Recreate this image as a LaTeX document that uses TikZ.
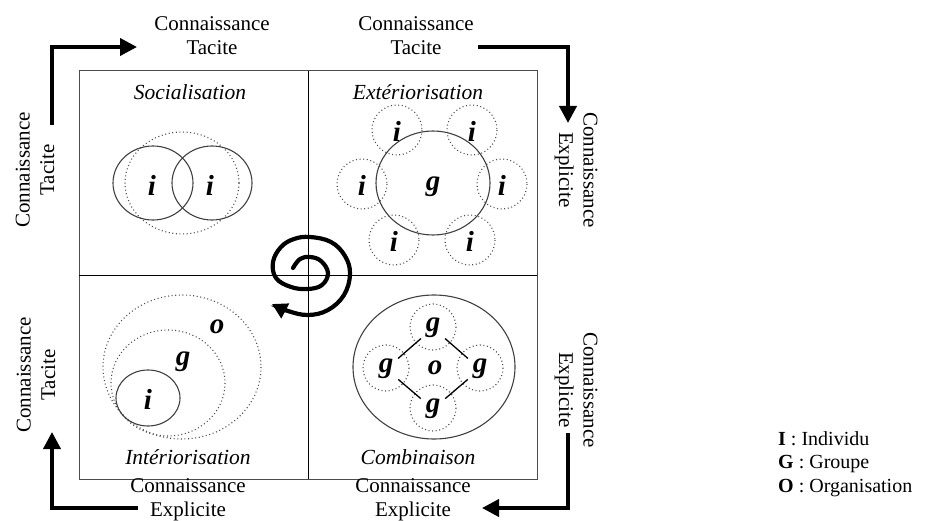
\documentclass[tikz,border=0pt]{standalone}
\usepackage{fontspec}
\setmainfont{Liberation Serif}
\usetikzlibrary{arrows.meta}
\begin{document}
\begin{tikzpicture}[x=1pt,y=-1pt,
  lbl/.style={font=\fontsize{21}{24.5}\selectfont, align=center, inner sep=0pt},
  ttl/.style={font=\fontsize{21.5}{24}\selectfont\itshape, inner sep=0pt},
  ltr/.style={font=\fontsize{29}{30}\selectfont\bfseries\itshape, inner sep=0pt},
  flow/.style={line width=3.8pt, -{Triangle[length=17pt,width=17pt]}},
  frame/.style={draw=black!70, line width=1pt},
  axis/.style={draw=black, line width=0.9pt},
  solidring/.style={draw=black!75, line width=1.1pt},
  dotring/.style={draw=black!70, line width=1.1pt, dash pattern=on 1pt off 2.6pt},
  link/.style={draw=black, line width=1.3pt, shorten >=16pt, shorten <=16pt},
]
\useasboundingbox (0,0) rectangle (933,521);

% frame and quadrant axes
\draw[frame] (79,71) rectangle (537,479);
\draw[axis] (308,71) -- (308,479);
\draw[axis] (79,275) -- (537,275);

% outer knowledge labels
\node[lbl] (ttl-left)  at (212,35.5) {Connaissance\\Tacite};
\node[lbl] (ttl-right) at (416,35.5) {Connaissance\\Tacite};
\node[lbl, rotate=90] (tac-up)   at (35,170) {Connaissance\\Tacite};
\node[lbl, rotate=90] (tac-down) at (36,375) {Connaissance\\Tacite};
\node[lbl, rotate=-90] (exp-up)   at (576,170) {Connaissance\\Explicite};
\node[lbl, rotate=-90] (exp-down) at (576,390) {Connaissance\\Explicite};
\node[lbl] (exp-left)  at (188,500) {Connaissance\\Explicite};
\node[lbl] (exp-right) at (413,500) {Connaissance\\Explicite};

% cycle arrows
\coordinate (a1s) at (52,125);  \coordinate (a1c) at (52,47);   \coordinate (a1e) at (137,47);
\coordinate (a2s) at (478,47);  \coordinate (a2c) at (568,47);  \coordinate (a2e) at (568,123);
\coordinate (a3s) at (568,433); \coordinate (a3c) at (568,508); \coordinate (a3e) at (482,508);
\coordinate (a4s) at (138,508); \coordinate (a4c) at (52,508);  \coordinate (a4e) at (52,432);
\draw[flow] (a1s) -- (a1c) -- (a1e);
\draw[flow] (a2s) -- (a2c) -- (a2e);
\draw[flow] (a3s) -- (a3c) -- (a3e);
\draw[flow] (a4s) -- (a4c) -- (a4e);

% quadrant titles
\node[ttl] (soc) at (190,92) {Socialisation};
\node[ttl] (ext) at (418,92) {Extériorisation};
\node[ttl] (int) at (188,457) {Intériorisation};
\node[ttl] (com) at (418,457) {Combinaison};

% socialisation: two individuals
\draw[dotring] (182,183) ellipse (57 and 51);
\draw[solidring] (153,183) ellipse (40 and 37);
\draw[solidring] (212,183) ellipse (40 and 37);
\node[ltr] (s-i1) at (152,185) {i};
\node[ltr] (s-i2) at (210,185) {i};

% exteriorisation: group with individuals around it
\foreach \px/\py [count=\k] in {397/130, 472/130, 362/184, 502/184, 394/240, 470/240}{
  \draw[dotring] (\px,\py) circle (25);
  \node[ltr] (e-i\k) at (\px,\py+1) {i};
}
\draw[solidring] (433,183) ellipse (57 and 52);
\node[ltr] (e-g) at (433,187) {g};

% interiorisation: nested individual, group, organisation
\draw[dotring] (182,367) ellipse (79 and 72);
\draw[dotring] (168,383) ellipse (57 and 53);
\draw[solidring] (148,398) ellipse (32 and 28);
\node[ltr] (n-o) at (217,327) {o};
\node[ltr] (n-g) at (183,362) {g};
\node[ltr] (n-i) at (148,399) {i};

% combinaison: groups linked inside the organisation
\draw[solidring] (434,367) ellipse (81 and 72);
\foreach \px/\py/\nm in {433/327/t, 386/368/l, 480/368/r, 433/408/b}{
  \draw[dotring] (\px,\py) circle (23);
  \node[ltr] (c-\nm) at (\px,\py+1) {g};
}
\node[ltr] (c-o) at (435,368) {o};
\draw[link] (c-t.center) -- (c-l.center);
\draw[link] (c-t.center) -- (c-r.center);
\draw[link] (c-b.center) -- (c-l.center);
\draw[link] (c-b.center) -- (c-r.center);

% central spiral
\draw[line width=4.2pt, line cap=round, -{Triangle[length=15pt,width=16pt]}]
  plot[smooth, tension=0.65] coordinates {
    (293,268) (300,259) (310,257) (321,261) (328,273) (322,285) (308,289)
    (291,287) (276,278) (273,262) (281,247) (294,239) (310,237) (331,242)
    (345,256) (350,274) (344,295) (328,310) (308,315) (288,311) (272,304)};

% legend
\node[anchor=west, align=left, inner sep=0pt, font=\fontsize{20}{23.3}\selectfont]
  (legend) at (778,464) {\textbf{I} : Individu\\ \textbf{G} : Groupe\\ \textbf{O} : Organisation};
\end{tikzpicture}
\end{document}
